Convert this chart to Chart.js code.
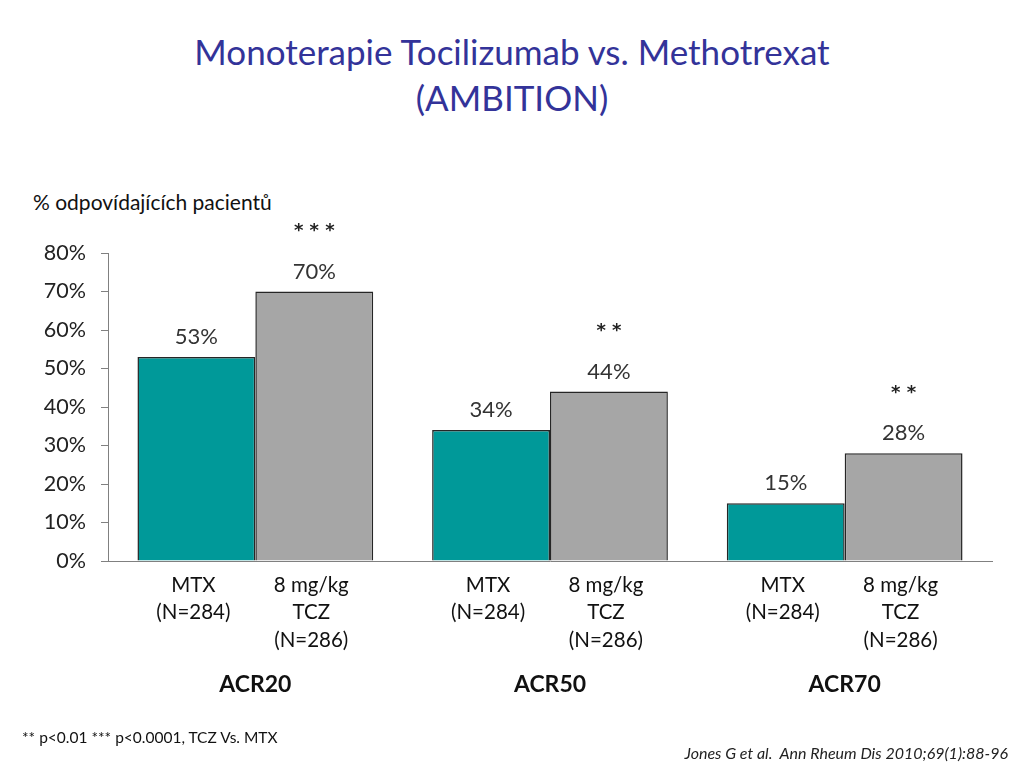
<!DOCTYPE html>
<html>
<head>
<meta charset="utf-8">
<script src="https://cdn.jsdelivr.net/npm/chart.js@4"></script>
<style>
  body { margin: 0; background: #fff; font-family: Lato, "Open Sans", sans-serif; }
  #wrap { position: relative; width: 1024px; height: 768px; overflow: hidden; }
  #chart { position: absolute; left: 0; top: 0; }
  .title { position: absolute; left: 0; width: 1024px; text-align: center; color: #333399; font-size: 35px; line-height: 46px; top: 28px; }
  .ycap { position: absolute; left: 33px; top: 189px; font-size: 21px; color: #111; }
  .foot { position: absolute; left: 22px; top: 728px; font-size: 15.5px; color: #111; }
  .cite { position: absolute; right: 16px; top: 743px; font-size: 16px; font-style: italic; color: #222; }
</style>
</head>
<body>
<div id="wrap">
  <div class="title">Monoterapie Tocilizumab vs. Methotrexat<br>(AMBITION)</div>
  <div class="ycap">% odpovídajících pacientů</div>
  <canvas id="chart" width="1024" height="768"></canvas>
  <div class="foot">** p&lt;0.01 *** p&lt;0.0001, TCZ Vs. MTX</div>
  <div class="cite">Jones G et al.&nbsp; Ann Rheum Dis 2010;69(1):88-96</div>
</div>
<script>
// data
const categories = ["ACR20", "ACR50", "ACR70"];
const mtxValues = [53, 34, 15];
const tczValues = [70, 44, 28];
const significance = ["***", "**", "**"];
const mtxLabel = ["MTX", "(N=284)"];
const tczLabel = ["8 mg/kg", "TCZ", "(N=286)"];

// labels on top of / under the bars
const barText = {
  id: "barText",
  afterDatasetsDraw(chart) {
    const ctx = chart.ctx;
    const bottom = chart.chartArea.bottom;
    ctx.save();
    ctx.textAlign = "center";
    ctx.textBaseline = "middle";
    chart.data.datasets.forEach((ds, i) => {
      chart.getDatasetMeta(i).data.forEach((bar, j) => {
        ctx.fillStyle = "#333";
        ctx.font = "22px Lato, 'Open Sans', sans-serif";
        ctx.fillText(ds.data[j] + "%", bar.x, bar.y - 20);
        if (i === 1) {
          ctx.fillStyle = "#222";
          ctx.font = "bold 18px 'DejaVu Sans', sans-serif";
          ctx.fillText(significance[j].split("").join(" "), bar.x, bar.y - 60);
        }
        const lines = i === 0 ? mtxLabel : tczLabel;
        ctx.fillStyle = "#111";
        ctx.font = "20.5px Lato, 'Open Sans', sans-serif";
        lines.forEach((t, k) => ctx.fillText(t, bar.x - 3, bottom + 24 + k * 27.5));
      });
    });
    ctx.restore();
  },
};

new Chart(document.getElementById("chart"), {
  type: "bar",
  data: {
    labels: categories,
    datasets: [
      { label: "MTX", data: mtxValues, backgroundColor: "#009999", borderColor: "#262626", borderWidth: 1.5 },
      { label: "TCZ", data: tczValues, backgroundColor: "#A6A6A6", borderColor: "#262626", borderWidth: 1.5 },
    ],
  },
  options: {
    responsive: false,
    animation: false,
    layout: { padding: { top: 253, right: 32, left: 0, bottom: 0 } },
    categoryPercentage: 0.8,
    barPercentage: 1.0,
    plugins: { legend: { display: false }, tooltip: { enabled: false }, title: { display: false } },
    scales: {
      x: {
        afterFit: (s) => { s.height = 207; },
        grid: { display: false, drawTicks: false },
        border: { display: true, color: "#808080", width: 1 },
        ticks: { color: "#111", padding: 110, font: { family: "Lato, 'Open Sans', sans-serif", size: 23, weight: "bold" } },
      },
      y: {
        min: 0,
        max: 80,
        afterFit: (s) => { s.width = 108; },
        grid: { drawOnChartArea: false, drawTicks: true, tickLength: 7, color: "#808080" },
        border: { display: true, color: "#808080", width: 1 },
        ticks: {
          stepSize: 10,
          padding: 15,
          color: "#222",
          font: { family: "Lato, 'Open Sans', sans-serif", size: 21.5 },
          callback: (v) => v + "%",
        },
      },
    },
  },
  plugins: [barText],
});
</script>
</body>
</html>
